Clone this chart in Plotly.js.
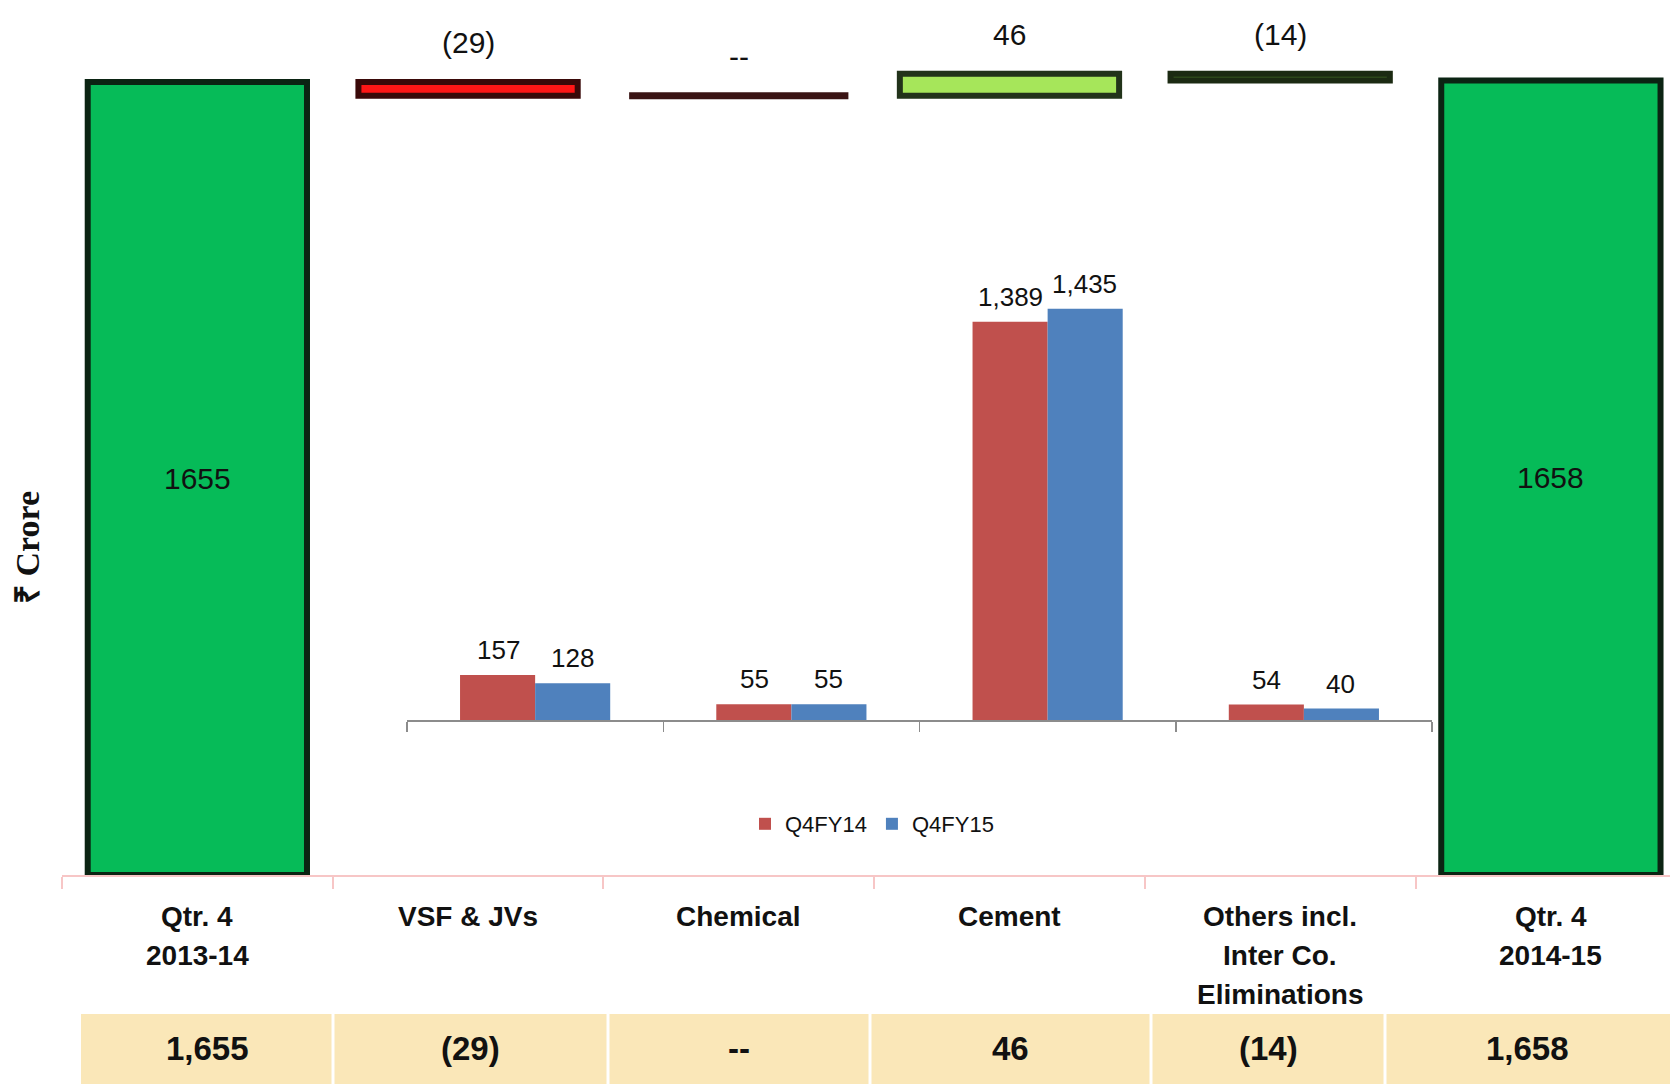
<!DOCTYPE html>
<html>
<head>
<meta charset="utf-8">
<script src="https://cdn.plot.ly/plotly-3.0.1.min.js"></script>
<style>
  html, body { margin: 0; padding: 0; background: #ffffff; }
  #chart { width: 1670px; height: 1084px; }
</style>
</head>
<body>
<div id="chart"></div>
<script>
// ---------- DATA ----------
const wfCategories = ["Qtr. 4<br>2013-14", "VSF & JVs", "Chemical", "Cement", "Others incl.<br>Inter Co.<br>Eliminations", "Qtr. 4<br>2014-15"];
const wfStart = 1655;          // Qtr. 4 2013-14
const wfChanges = [-29, 0, 46, -14];   // VSF & JVs, Chemical, Cement, Others
const wfEnd = 1658;            // Qtr. 4 2014-15

const segCategories = ["VSF & JVs", "Chemical", "Cement", "Others"];
const q4fy14 = [157, 55, 1389, 54];
const q4fy15 = [128, 55, 1435, 40];

const tableValues = ["1,655", "(29)", "--", "46", "(14)", "1,658"];

// ---------- HELPERS ----------
const FONT = "'Liberation Sans', Arial, sans-serif";
function fmtChange(v) {
  if (v === 0) return "--";
  if (v < 0) return "(" + Math.abs(v) + ")";
  return String(v);
}
function fmtNum(v) { return v.toLocaleString("en-US"); }

// Waterfall bars built from the data
const wfX = [], wfBase = [], wfLen = [], wfColor = [], wfLine = [];
let level = wfStart;
wfX.push(0); wfBase.push(0); wfLen.push(wfStart); wfColor.push("#06bb58"); wfLine.push("#0b2413");
const changeFill = ["#ff1616", "#3a1414", "#a6e65a", "#3f6423"];
const changeLine = ["#3a0909", "#3a1414", "#22331a", "#1b2a12"];
const zeroChanges = [];
wfChanges.forEach((c, i) => {
  const next = level + c;
  if (c === 0) {
    zeroChanges.push({ x: i + 1, y: level });
  } else {
    wfX.push(i + 1);
    wfBase.push(Math.min(level, next));
    wfLen.push(Math.abs(c));
    wfColor.push(changeFill[i]);
    wfLine.push(changeLine[i]);
  }
  level = next;
});
wfX.push(wfChanges.length + 1); wfBase.push(0); wfLen.push(wfEnd); wfColor.push("#06bb58"); wfLine.push("#0b2413");

const BARW = 0.81;

const traces = [];
traces.push({
  type: "bar", x: wfX, y: wfLen, base: wfBase, width: BARW,
  xaxis: "x", yaxis: "y",
  marker: { color: wfColor, line: { color: wfLine, width: 6 } },
  showlegend: false, hoverinfo: "skip"
});
zeroChanges.forEach(z => {
  traces.push({
    type: "scatter", mode: "lines",
    x: [z.x - BARW / 2, z.x + BARW / 2], y: [z.y, z.y],
    xaxis: "x", yaxis: "y",
    line: { color: "#3a1414", width: 7 },
    showlegend: false, hoverinfo: "skip"
  });
});
traces.push({
  type: "bar", name: "Q4FY14", x: segCategories, y: q4fy14,
  xaxis: "x2", yaxis: "y2", marker: { color: "#c0504d" }
});
traces.push({
  type: "bar", name: "Q4FY15", x: segCategories, y: q4fy15,
  xaxis: "x2", yaxis: "y2", marker: { color: "#4f81bd" }
});

// ---------- ANNOTATIONS ----------
const W = 1670, H = 1084;
const px = v => v / W, py = v => 1 - v / H;
const annotations = [];

// value inside the total bars
annotations.push({ xref: "x", yref: "y", x: 0, y: wfStart / 2, text: String(wfStart), showarrow: false,
  xanchor: "center", yanchor: "middle", font: { family: FONT, size: 30, color: "#111" } });
annotations.push({ xref: "x", yref: "y", x: wfChanges.length + 1, y: wfEnd / 2, text: String(wfEnd), showarrow: false,
  xanchor: "center", yanchor: "middle", font: { family: FONT, size: 30, color: "#111" } });

// labels above change bars
level = wfStart;
wfChanges.forEach((c, i) => {
  const top = Math.max(level, level + c);
  annotations.push({ xref: "x", yref: "y", x: i + 1, y: top, xanchor: "center", yanchor: "bottom", yshift: 21,
    text: fmtChange(c), showarrow: false, font: { family: FONT, size: 30, color: "#111" } });
  level += c;
});

// inner bar labels
segCategories.forEach((cat, i) => {
  annotations.push({ xref: "x2", yref: "y2", x: cat, xshift: -37, y: q4fy14[i], xanchor: "center", yanchor: "bottom", yshift: 8,
    text: fmtNum(q4fy14[i]), showarrow: false, font: { family: FONT, size: 26, color: "#111" } });
  annotations.push({ xref: "x2", yref: "y2", x: cat, xshift: 37, y: q4fy15[i], xanchor: "center", yanchor: "bottom", yshift: 8,
    text: fmtNum(q4fy15[i]), showarrow: false, font: { family: FONT, size: 26, color: "#111" } });
});

// category labels under the outer axis (one annotation per text line)
wfCategories.forEach((cat, i) => {
  cat.split("<br>").forEach((line, k) => {
    annotations.push({ xref: "x", yref: "paper", x: i, y: py(916 + 39 * k), xanchor: "center", yanchor: "middle",
      text: "<b>" + line + "</b>", showarrow: false,
      font: { family: FONT, size: 28, color: "#111" } });
  });
});

// table row
const cellEdges = [81, 333, 608, 870, 1151, 1385, 1670];
const shapes = [];
tableValues.forEach((v, i) => {
  const x0 = cellEdges[i] + (i === 0 ? 0 : 1.5), x1 = cellEdges[i + 1] - (i === tableValues.length - 1 ? 0 : 1.5);
  shapes.push({ type: "rect", xref: "paper", yref: "paper", x0: px(x0), x1: px(x1), y0: 0, y1: py(1014),
    fillcolor: "#fae7b8", line: { width: 0 }, layer: "below" });
  annotations.push({ xref: "paper", yref: "paper", x: px((cellEdges[i] + cellEdges[i + 1]) / 2), y: py(1048),
    xanchor: "center", yanchor: "middle", text: "<b>" + v + "</b>", showarrow: false,
    font: { family: FONT, size: 33, color: "#111" } });
});

// y-axis title
annotations.push({ xref: "paper", yref: "paper", x: px(27), y: py(548), xanchor: "center", yanchor: "middle", textangle: -90,
  text: "<b>₹ Crore</b>", showarrow: false,
  font: { family: "'Liberation Serif', 'Times New Roman', serif", size: 34, color: "#111" } });

const layout = {
  width: W, height: H,
  margin: { l: 0, r: 0, t: 0, b: 0 },
  paper_bgcolor: "#ffffff", plot_bgcolor: "rgba(0,0,0,0)",
  barmode: "group", bargap: 0.414, bargroupgap: 0,
  showlegend: true,
  legend: { orientation: "h", x: px(872), xanchor: "center", y: py(824), yanchor: "middle",
    font: { family: FONT, size: 22, color: "#111" }, bgcolor: "rgba(0,0,0,0)", traceorder: "normal",
    itemwidth: 30 },
  xaxis: {
    domain: [px(62), 1], range: [-0.5, 5.44], showgrid: false, zeroline: false,
    showline: true, linecolor: "#f7c6c6", linewidth: 2,
    tickmode: "array", tickvals: [-0.5, 0.5, 1.5, 2.5, 3.5, 4.5], ticks: "outside", ticklen: 12,
    tickcolor: "#f7c6c6", tickwidth: 2, showticklabels: false, fixedrange: true
  },
  yaxis: {
    domain: [py(875), 1], range: [0, 1826], visible: false, showgrid: false, zeroline: false, fixedrange: true
  },
  xaxis2: {
    domain: [px(407), px(1432)], anchor: "y2", type: "category", showgrid: false, zeroline: false,
    showline: true, linecolor: "#8c8c8c", linewidth: 1.5,
    ticks: "outside", tickson: "boundaries", ticklen: 10, tickcolor: "#8c8c8c", tickwidth: 1.5,
    showticklabels: false, fixedrange: true
  },
  yaxis2: {
    domain: [py(720), py(280)], anchor: "x2", range: [0, 1535], visible: false, showgrid: false,
    zeroline: false, fixedrange: true
  },
  shapes: shapes,
  annotations: annotations
};

Plotly.newPlot("chart", traces, layout, { staticPlot: true, displayModeBar: false });
</script>
</body>
</html>
